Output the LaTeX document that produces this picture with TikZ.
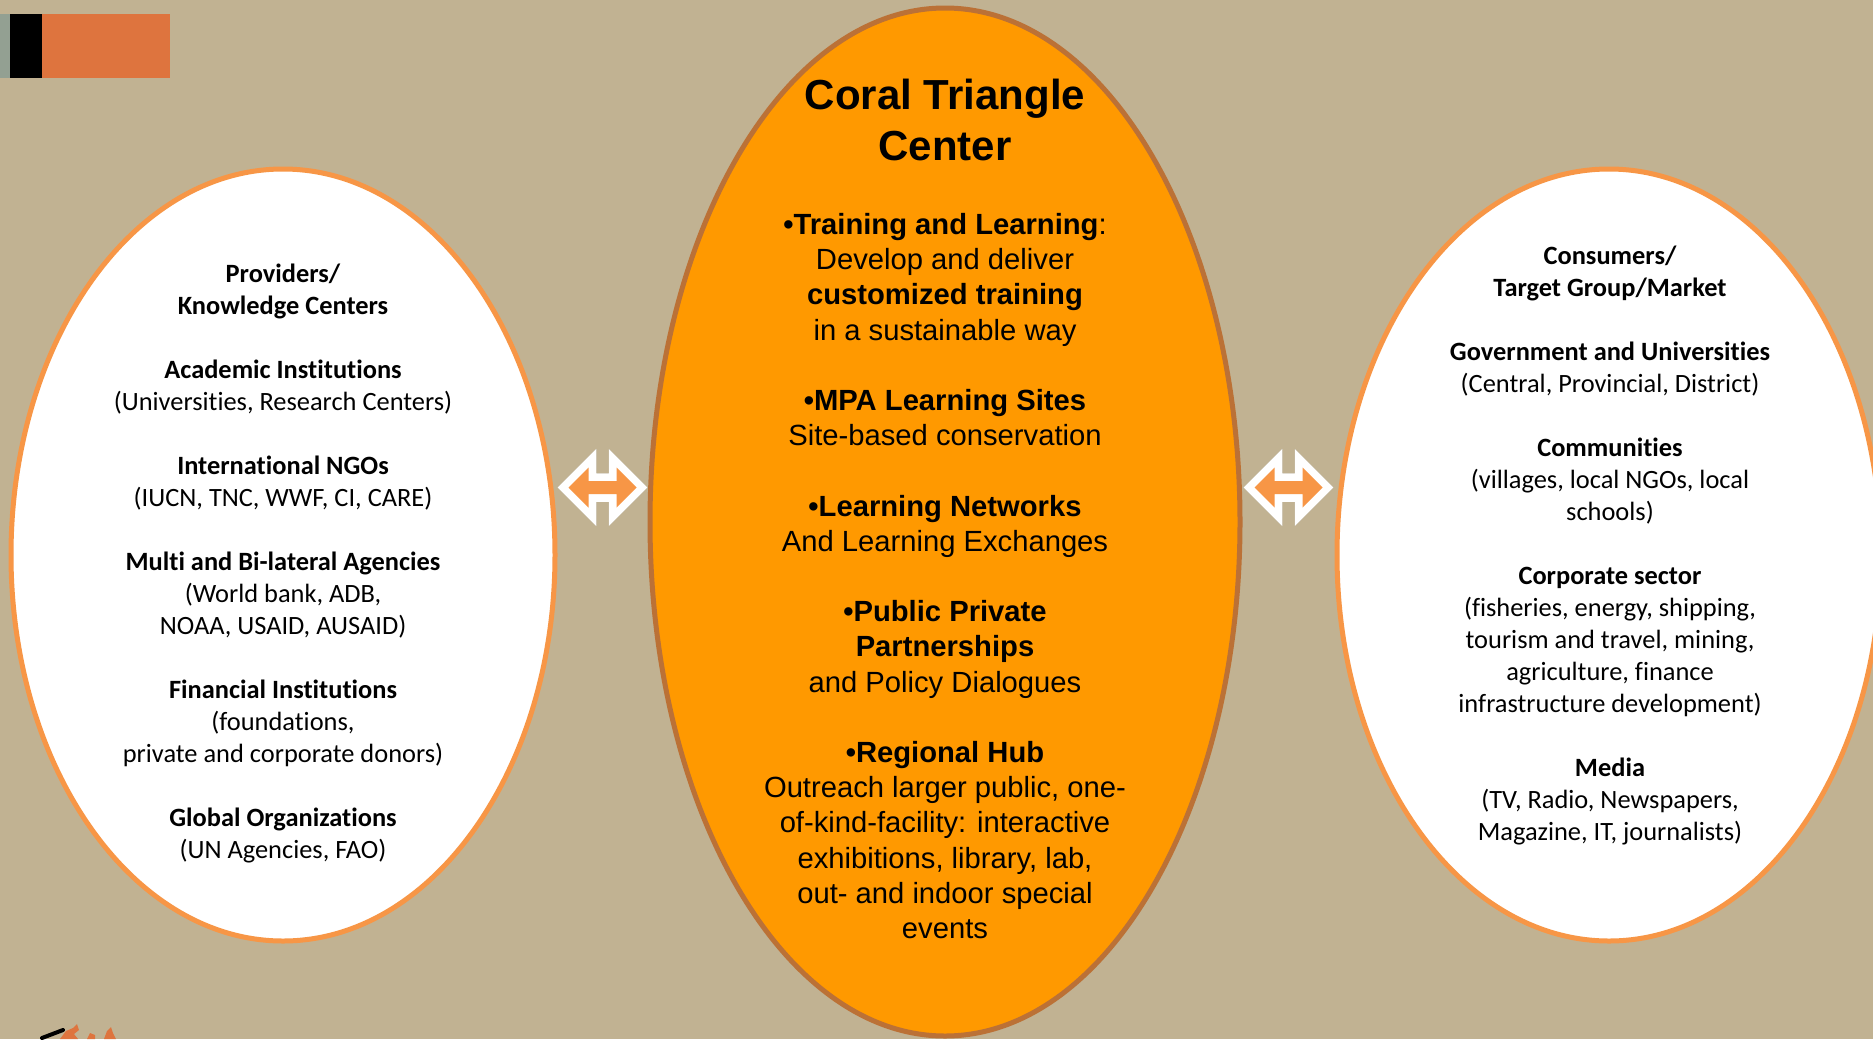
\documentclass[tikz,border=0pt]{standalone}
\usepackage{fontspec}
\newfontfamily\calibri[Ligatures=CommonOff]{Carlito}
\newfontfamily\arial{Liberation Sans}
\usetikzlibrary{shapes.geometric,calc,positioning}
\definecolor{bgtan}{RGB}{193,178,146}
\definecolor{ringor}{RGB}{247,150,70}
\definecolor{ctcfill}{RGB}{255,153,0}
\definecolor{ctcline}{RGB}{187,113,54}
\definecolor{barorange}{RGB}{222,116,62}
\definecolor{bargrey}{RGB}{147,160,146}
\tikzset{
  ring/.style={ellipse, draw=ringor, line width=5pt, fill=white,
    inner sep=0pt, minimum width=544pt, minimum height=772pt},
  ctc/.style={ellipse, draw=ctcline, line width=5pt, fill=ctcfill,
    inner sep=0pt, minimum width=590pt, minimum height=1028pt},
  side text/.style={align=center, inner sep=0pt,
    font=\calibri\fontsize{26.4}{32}\selectfont},
  ctc text/.style={align=center, inner sep=0pt,
    font=\arial\fontsize{29.2}{35.2}\selectfont},
  ctc title/.style={align=center, inner sep=0pt,
    font=\arial\bfseries\fontsize{42}{51.4}\selectfont},
  arrow outline/.style={insert path={(-34,0) -- (-14,-20) -- (-14,-6.5)
    -- (14,-6.5) -- (14,-20) -- (34,0) -- (14,20) -- (14,6.5)
    -- (-14,6.5) -- (-14,20) -- cycle}},
  biarrow/.pic={
    \draw[arrow outline, black, draw opacity=.18, line width=15.5pt,
      line join=miter, shift={(3,4)}];
    \draw[arrow outline, white, line width=15.5pt, line join=miter];
    \fill[arrow outline, ringor];
  }
}
\newcommand\gap{\\[32pt]}
\newcommand\cgap{\\[35.2pt]}
\begin{document}
\begin{tikzpicture}[x=1pt,y=-1pt]
  \fill[bgtan] (0,0) rectangle (1873,1039);
  \useasboundingbox (0,0) rectangle (1873,1039);
  % corner bar
  \fill[bargrey] (0,14) rectangle (10,78);
  \fill[black] (10,14) rectangle (42,78);
  \fill[barorange] (42,14) rectangle (170,78);
  % logo fragment
  \draw[black, line width=4pt, line cap=round] (42,1038) -- (63,1030);
  \fill[barorange] (60,1039) -- (66,1031) -- (73,1028) -- (77,1024)
    -- (79,1030) -- (74,1034) -- (78,1039) -- cycle;
  \fill[barorange] (87,1039) -- (90,1033) -- (95,1035) -- (95,1039) -- cycle;
  \fill[barorange] (104,1039) -- (107,1031) -- (111,1027) -- (113,1033)
    -- (116,1039) -- cycle;

  \node[ring] (providers) at (283,555) {};
  \node[ring] (consumers) at (1609,555) {};
  \node[ctc] (center) at (945,522) {};

  \node[side text] (providers text) at (283,563) {%
    \bfseries Providers/\\ \bfseries Knowledge Centers\gap
    \bfseries Academic Institutions\\ (Universities, Research Centers)\gap
    \bfseries International NGOs\\ (IUCN, TNC, WWF, CI, CARE)\gap
    \bfseries Multi and Bi-lateral Agencies\\ (World bank, ADB,\\
    NOAA, USAID, AUSAID)\gap
    \bfseries Financial Institutions\\ (foundations,\\
    private and corporate donors)\gap
    \bfseries Global Organizations\\ (UN Agencies, FAO)};

  \node[side text] (consumers text) at (1610,545) {%
    \bfseries Consumers/\\ \bfseries Target Group/Market\gap
    \bfseries Government and Universities\\ (Central, Provincial, District)\gap
    \bfseries Communities\\ (villages, local NGOs, local\\ schools)\gap
    \bfseries Corporate sector\\ (fisheries, energy, shipping,\\
    tourism and travel, mining,\\ agriculture, finance\\
    infrastructure development)\gap
    \bfseries Media\\ (TV, Radio, Newspapers,\\ Magazine, IT, journalists)};

  \node[ctc title] (title) at (945,120) {Coral Triangle\\ Center};
  \node[ctc text] (center text) at (945,576) {%
    \textbf{•Training and Learning}:\\ Develop and deliver\\
    \textbf{customized training}\\ in a sustainable way\cgap
    \textbf{•MPA Learning Sites}\\ Site-based conservation\cgap
    \textbf{•Learning Networks}\\ And Learning Exchanges\cgap
    \textbf{•Public Private}\\ \textbf{Partnerships}\\
    and Policy Dialogues\cgap
    \textbf{•Regional Hub}\\ Outreach larger public, one-\\
    of-kind-facility: interactive\\ exhibitions, library, lab,\\
    out- and indoor special\\ events};

  \pic (left arrow) at ($(providers.east)!0.5!(center.west) + (0,-51)$) {biarrow};
  \pic (right arrow) at ($(center.east)!0.5!(consumers.west) + (0,-51)$) {biarrow};
\end{tikzpicture}
\end{document}
